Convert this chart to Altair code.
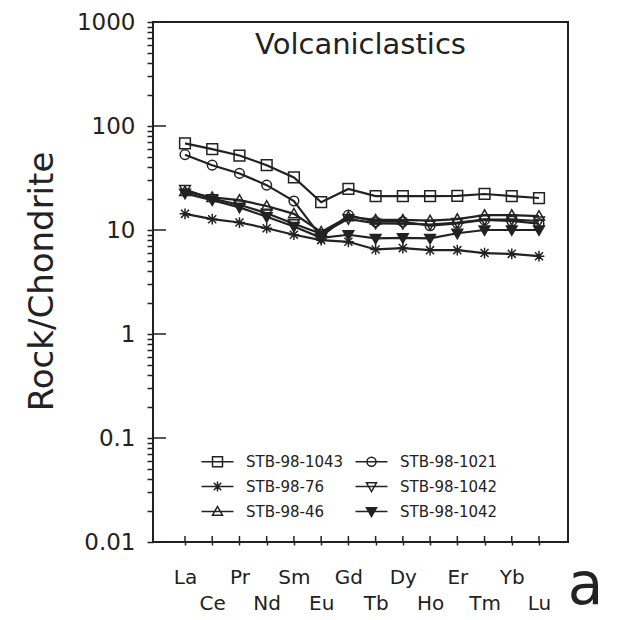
import altair as alt
import pandas as pd

# ---------------- data ----------------
elements = ["La", "Ce", "Pr", "Nd", "Sm", "Eu", "Gd", "Tb", "Dy", "Ho", "Er", "Tm", "Yb", "Lu"]

names = ["STB-98-1043", "STB-98-1021", "STB-98-76", "STB-98-1042", "STB-98-46", "STB-98-1042"]

s1043 = [68, 60, 52, 42, 32, 18.5, 24.8, 21.2, 21.2, 21.2, 21.3, 22.2, 21.2, 20.3]
s1021 = [53, 42, 35, 27, 19, 8.6, 13.9, 12.0, 12.0, 11.0, 11.6, 12.5, 12.2, 11.5]
s76 = [14.3, 12.7, 11.8, 10.4, 9.0, 8.0, 7.7, 6.5, 6.7, 6.4, 6.4, 6.0, 5.9, 5.6]
s1042_open = [24.5, 20.0, 17.5, 14.5, 11.5, 9.2, 12.8, 11.6, 11.5, 11.3, 11.8, 12.6, 12.6, 12.2]
s46 = [23.4, 20.6, 19.4, 17.0, 14.3, 9.6, 13.4, 12.5, 12.5, 12.3, 12.7, 13.9, 13.9, 13.6]
s1042_filled = [22.5, 19.4, 16.5, 13.4, 10.8, 8.4, 9.0, 8.3, 8.4, 8.3, 9.3, 10.0, 10.0, 10.0]

series = [s1043, s1021, s76, s1042_open, s46, s1042_filled]
keys = [f"{i}|{n}" for i, n in enumerate(names)]

decades = [0.01, 0.1, 1, 10, 100, 1000]
minor_vals = [round(k * 10 ** e, 4) for e in range(-2, 3) for k in range(1, 10)] + [1000]

rows = []
for key, vals in zip(keys, series):
    for i, v in enumerate(vals):
        rows.append({"key": key, "idx": i, "value": v})
df = pd.DataFrame(rows)
xticks_df = pd.DataFrame({"idx": list(range(len(elements)))})
yticks_df = pd.DataFrame({"value": decades})

# ---------------- styling ----------------
INK = "#222222"
FONT = "DejaVu Sans"
W, H = 415, 520

ast = "M-1,0L1,0M0,-1L0,1M-0.75,-0.75L0.75,0.75M-0.75,0.75L0.75,-0.75"
sq = "M-1,-1L1,-1L1,1L-1,1Z"
circ = "M-0.9,0A0.9,0.9,0,1,1,0.9,0A0.9,0.9,0,1,1,-0.9,0Z"
tdown = "M-1,-0.75L1,-0.75L0,1Z"
tup = "M-1,0.75L1,0.75L0,-1Z"
marker_paths = [sq, circ, ast, tdown, tup, tdown]
seg = "M-3.2,0L3.2,0"
legend_paths = [seg + p for p in marker_paths]
fills = ["transparent", "transparent", "transparent", "transparent", "transparent", INK]

# legend is laid out column by column: reorder so rows read like the reference
leg_order = [0, 2, 4, 1, 3, 5]
leg_keys = [keys[i] for i in leg_order]
leg_paths = [legend_paths[i] for i in leg_order]
leg_fills = [fills[i] for i in leg_order]

x_scale = alt.Scale(domain=[-1.175, 14.065], nice=False, zero=False)
y_scale = alt.Scale(type="log", domain=[0.01, 1000], nice=False)

arr = "[" + ",".join(f"'{e}'" for e in elements) + "]"
x_label_expr = f"datum.value % 2 == 0 ? [{arr}[datum.value], ''] : ['', {arr}[datum.value]]"
y_label_expr = ("abs(log(datum.value)/LN10 - round(log(datum.value)/LN10)) < 0.01 "
                "? format(datum.value, '~g') : ''")

base = alt.Chart(df)

lines = base.mark_line(color=INK, strokeWidth=2.2).encode(
    x=alt.X("idx:Q", scale=x_scale,
            axis=alt.Axis(orient="bottom", values=list(range(14)), tickSize=3, tickWidth=1.5,
                          tickColor=INK, domain=False, grid=False, labelExpr=x_label_expr,
                          labelFont=FONT, labelFontSize=20, labelColor=INK, labelPadding=22,
                          labelBaseline="top", labelLineHeight=26, labelOverlap=False,
                          labelFlush=False, title="a", titleFont=FONT, titleFontSize=58,
                          titleFontWeight="normal", titleColor=INK, titleX=432, titleY=61,
                          titleAlign="center", titleBaseline="alphabetic")),
    y=alt.Y("value:Q", scale=y_scale,
            axis=alt.Axis(orient="left", values=minor_vals, tickSize=6, tickWidth=1.5,
                          tickColor=INK, domain=False, grid=False, labelExpr=y_label_expr,
                          labelFont=FONT, labelFontSize=23, labelColor=INK, labelPadding=12,
                          labelOverlap=False, labelFlush=False,
                          title="Rock/Chondrite", titleFont=FONT, titleFontSize=34,
                          titleFontWeight="normal", titleColor=INK, titleX=-101, titleY=259,
                          titleAlign="center", titleBaseline="alphabetic", titleAngle=270)),
    detail="key:N",
)

points = base.mark_point(filled=True, size=115, stroke=INK, strokeWidth=1.5, opacity=1).encode(
    x=alt.X("idx:Q", scale=x_scale, axis=None),
    y=alt.Y("value:Q", scale=y_scale, axis=None),
    shape=alt.Shape("key:N", scale=alt.Scale(domain=keys, range=marker_paths), legend=None),
    fill=alt.Fill("key:N", scale=alt.Scale(domain=keys, range=fills), legend=None),
)

leg = alt.Legend(title=None, orient="none", legendX=57, legendY=432, columns=2,
                 labelExpr="split(datum.label, '|')[1]", labelFont=FONT, labelFontSize=15,
                 labelColor=INK, labelOffset=21, columnPadding=8, rowPadding=8,
                 symbolSize=100, symbolStrokeColor=INK, symbolStrokeWidth=1.5,
                 symbolOpacity=1, padding=0)

legend_layer = base.mark_point(filled=False, size=100, strokeWidth=1.5, opacity=0).encode(
    x=alt.X("idx:Q", scale=x_scale, axis=None),
    y=alt.Y("value:Q", scale=y_scale, axis=None),
    shape=alt.Shape("key:N", scale=alt.Scale(domain=leg_keys, range=leg_paths), legend=leg),
    fill=alt.Fill("key:N", scale=alt.Scale(domain=leg_keys, range=leg_fills), legend=leg),
    stroke=alt.Stroke("key:N", scale=alt.Scale(domain=leg_keys, range=[INK] * 6), legend=leg),
)

# inward major ticks (y) and inward x ticks
ytick_in = alt.Chart(yticks_df).mark_rule(color=INK, strokeWidth=1.5).encode(
    y=alt.Y("value:Q", scale=y_scale, axis=None),
    x=alt.value(0), x2=alt.value(13),
)
xtick_in = alt.Chart(xticks_df).mark_rule(color=INK, strokeWidth=1.5).encode(
    x=alt.X("idx:Q", scale=x_scale, axis=None),
    y=alt.value(H - 6), y2=alt.value(H),
)

chart = (
    alt.layer(lines, points, legend_layer, ytick_in, xtick_in)
    .resolve_scale(shape="independent", fill="independent", stroke="independent")
    .resolve_axis(x="independent", y="independent")
    .properties(
        width=W, height=H,
        padding={"left": 153, "top": 22, "right": 59, "bottom": 78},
        autosize=alt.AutoSizeParams(type="none"),
        title=alt.TitleParams("Volcaniclastics", anchor="middle", frame="group",
                              fontSize=29, font=FONT, fontWeight="normal", color=INK,
                              offset=-78, baseline="bottom"),
    )
    .configure_view(stroke=INK, strokeWidth=2)
)

chart.save("out.html", embed_options={"renderer": "svg", "actions": False})
